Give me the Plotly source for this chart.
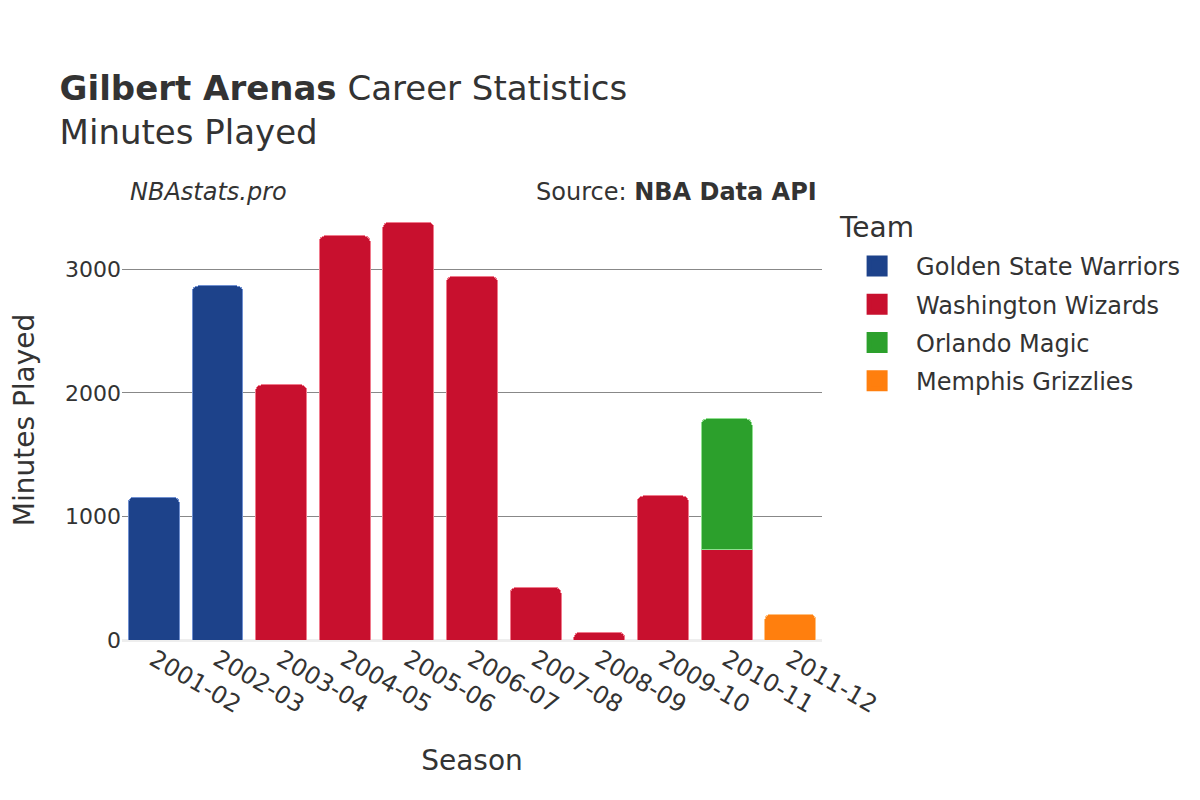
import plotly.graph_objects as go

seasons = ["2001-02", "2002-03", "2003-04", "2004-05", "2005-06", "2006-07",
           "2007-08", "2008-09", "2009-10", "2010-11", "2011-12"]

teams = ["Golden State Warriors", "Washington Wizards", "Orlando Magic", "Memphis Grizzlies"]
colors = ["#1d428a", "#c8102e", "#2ca02c", "#ff7f0e"]
line_colors = ["#6f8fd0", "#f07a8c", "#90e090", "#ffc080"]

gsw_seasons = ["2001-02", "2002-03"]
gsw_minutes = [1157, 2866]
was_seasons = ["2003-04", "2004-05", "2005-06", "2006-07", "2007-08", "2008-09", "2009-10", "2010-11"]
was_minutes = [2066, 3272, 3384, 2944, 425, 63, 1167, 731]
orl_seasons = ["2010-11"]
orl_minutes = [1060]
mem_seasons = ["2011-12"]
mem_minutes = [210]

data = [(gsw_seasons, gsw_minutes), (was_seasons, was_minutes),
        (orl_seasons, orl_minutes), (mem_seasons, mem_minutes)]

fig = go.Figure()
for name, (xs, ys), c, lc in zip(teams, data, colors, line_colors):
    fig.add_trace(go.Bar(x=xs, y=ys, name=name, legendgroup=name, showlegend=False,
                         marker=dict(color=c, line=dict(color=lc, width=1))))
# legend-only entries with larger swatches
for name, c in zip(teams, colors):
    fig.add_trace(go.Scatter(x=[None], y=[None], mode="markers", name=name, legendgroup=name,
                             marker=dict(symbol="square", size=16, color=c,
                                         line=dict(color=c, width=7))))

font_family = "DejaVu Sans"
fig.update_layout(
    width=1200, height=800,
    barmode="stack", bargap=0.2, barcornerradius=6,
    plot_bgcolor="white", paper_bgcolor="white",
    font=dict(family=font_family, color="#333333", size=22),
    margin=dict(l=114, r=386, t=192, b=168, autoexpand=False),
    title=dict(
        text="<b>Gilbert Arenas</b> Career Statistics<br>Minutes Played",
        x=0.043, xanchor="left", y=0.885, yanchor="top",
        font=dict(size=34, color="#333333"),
    ),
    xaxis=dict(
        type="category", automargin=False,
        categoryorder="array", categoryarray=seasons,
        tickangle=30, tickfont=dict(size=24),
        title=dict(text="Season", font=dict(size=28), standoff=32),
        showgrid=False,
    ),
    yaxis=dict(
        automargin=False,
        title=dict(text="Minutes Played", font=dict(size=28), standoff=41),
        tickfont=dict(size=22),
        showgrid=True, gridcolor="#888888", gridwidth=1,
        zeroline=True, zerolinecolor="#eeeeee", zerolinewidth=3,
        tickvals=[0, 1000, 2000, 3000],
    ),
    legend=dict(
        font=dict(size=24),
        x=1.023, xanchor="left", y=0.9, yanchor="top",
        traceorder="grouped", tracegroupgap=4, itemwidth=68,
    ),
    annotations=[
        dict(text="<i>NBAstats.pro</i>", xref="paper", yref="paper",
             x=0.008, y=1.018, xanchor="left", yanchor="middle",
             showarrow=False, font=dict(size=24, color="#333333")),
        dict(text="Source: <b>NBA Data API</b>", xref="paper", yref="paper",
             x=0.995, y=1.018, xanchor="right", yanchor="middle",
             showarrow=False, font=dict(size=24, color="#333333")),
        dict(text="Team", xref="paper", yref="paper",
             x=1.0214, y=0.938, xanchor="left", yanchor="middle",
             showarrow=False, font=dict(size=28, color="#333333")),
    ],
)

fig.write_html("out.html")
